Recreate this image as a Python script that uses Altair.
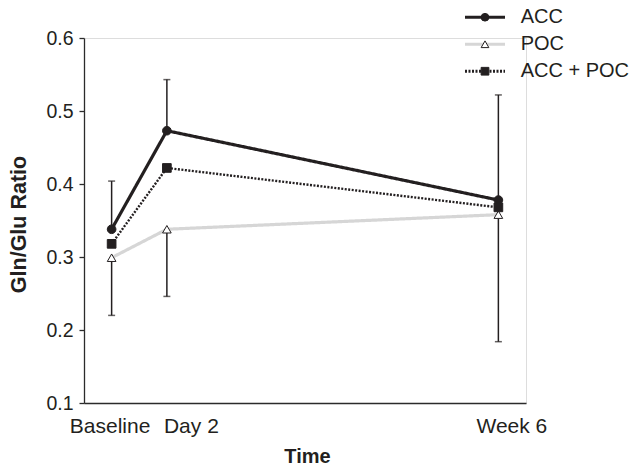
import altair as alt
import pandas as pd

# ---- data ----
time_labels = ["Baseline", "Day 2", "Week 6"]
time_pos = [0, 1, 7]
series_names = ["ACC", "POC", "ACC + POC"]
acc = [0.338, 0.473, 0.378]
poc = [0.299, 0.338, 0.358]
acc_poc = [0.318, 0.422, 0.368]
acc_upper = [0.404, 0.543, 0.522]
poc_lower = [0.220, 0.246, 0.184]
y_ticks = [0.1, 0.2, 0.3, 0.4, 0.5, 0.6]

values = {"ACC": acc, "POC": poc, "ACC + POC": acc_poc}
line_keys = [n + " line" for n in series_names]
rows = []
for s in ["POC", "ACC", "ACC + POC"]:
    for t, x, v in zip(time_labels, time_pos, values[s]):
        rows.append({"series": s + " line", "grp": s, "time": t, "x": x, "value": v})
df = pd.DataFrame(rows)

err_rows = []
for x, m, u in zip(time_pos, acc, acc_upper):
    err_rows.append({"x": x, "start": m, "end": u})
for x, m, l in zip(time_pos, poc, poc_lower):
    err_rows.append({"x": x, "start": m, "end": l})
err = pd.DataFrame(err_rows)

FONT = "Liberation Sans"
INK = "#231f20"
GRAY = "#d6d6d6"

label_expr = "datum.value == 0 ? 'Baseline' : datum.value == 1 ? 'Day 2' : datum.value == 7 ? 'Week 6' : ''"

x_enc = alt.X(
    "x:Q",
    scale=alt.Scale(domain=[-0.5, 7.5], nice=False, zero=False),
    axis=alt.Axis(
        values=time_pos, labelExpr=label_expr, ticks=False, tickSize=0, grid=False,
        labelFontSize=21, labelFont=FONT, labelColor=INK, labelBaseline="alphabetic",
        labelPadding=29, labelFlush=False, labelOverlap=False,
        labelOffset={"condition": [{"test": "datum.value == 1", "value": 24},
                                   {"test": "datum.value == 7", "value": 13}],
                     "value": -2},
        domainColor="#2b2b2b", domainWidth=1.3,
        title="Time", titleFont=FONT, titleFontSize=20, titleFontWeight="bold",
        titleColor=INK, titleX=223, titleY=59, titleBaseline="alphabetic",
    ),
)

y_axis = alt.Axis(
    values=y_ticks, format=".1f", grid=False, tickSize=5, tickColor="#2b2b2b", tickWidth=1.3,
    labelFontSize=19.5, labelFont=FONT, labelColor=INK, labelPadding=6,
    domainColor="#2b2b2b", domainWidth=1.3,
    title="Gln/Glu Ratio", titleFont=FONT, titleFontSize=21.5, titleFontWeight="bold",
    titleColor=INK, titleX=-59, titleY=186, titleBaseline="alphabetic", titleAngle=270,
)
y_scale = alt.Scale(domain=[0.1, 0.6], nice=False, zero=False)

line_legend = alt.Legend(
    title=None, orient="none", legendX=379.5, legendY=-34, symbolType="stroke",
    symbolSize=1600, symbolStrokeWidth=3, labelExpr="''", clipHeight=26.5,
    rowPadding=0, padding=0, labelFontSize=20, labelFont=FONT,
)
color_enc = alt.Color(
    "series:N", scale=alt.Scale(domain=line_keys, range=[INK, GRAY, INK]), legend=line_legend
)
dash_enc = alt.StrokeDash(
    "series:N", scale=alt.Scale(domain=line_keys, range=[[1, 0], [1, 0], [2, 1.5]]), legend=line_legend
)

base = alt.Chart(df)

def line_layer(name, width):
    return base.transform_filter(alt.datum.grp == name).mark_line(strokeWidth=width).encode(
        x=x_enc, y=alt.Y("value:Q", scale=y_scale, axis=y_axis), color=color_enc, strokeDash=dash_enc
    )

poc_line = line_layer("POC", 3.2)
combo_line = line_layer("ACC + POC", 2.4)
acc_line = line_layer("ACC", 3.2)

err_base = alt.Chart(err)
err_rule = err_base.mark_rule(color=INK, strokeWidth=1.5).encode(
    x="x:Q", y="start:Q", y2="end:Q"
)
err_cap = err_base.mark_tick(color=INK, orient="horizontal", size=7, thickness=1.5).encode(
    x="x:Q", y="end:Q"
)

point_legend = alt.Legend(
    title=None, orient="none", legendX=391, legendY=-34, symbolSize=60,
    symbolStrokeWidth=1, clipHeight=26.5, rowPadding=0, padding=0,
    labelFontSize=20, labelFont=FONT, labelColor=INK, labelOffset=25.7,
)
points = base.mark_point(filled=True, size=75, strokeWidth=1, opacity=1).encode(
    x="x:Q",
    y="value:Q",
    shape=alt.Shape("grp:N", scale=alt.Scale(domain=series_names,
                    range=["circle", "triangle-up", "square"]), legend=point_legend),
    fill=alt.Fill("grp:N", scale=alt.Scale(domain=series_names,
                  range=[INK, "#ffffff", INK]), legend=point_legend),
    stroke=alt.Stroke("grp:N", scale=alt.Scale(domain=series_names,
                      range=[INK, INK, INK]), legend=point_legend),
)

chart = alt.layer(poc_line, err_rule, err_cap, combo_line, acc_line, points).properties(
    width=442, height=365,
    padding={"left": 84, "top": 38, "right": 109, "bottom": 63},
    autosize=alt.AutoSizeParams(type="none"),
).configure_view(stroke=None).configure(font=FONT)

chart.save("out.html", embed_options={"renderer": "svg", "actions": False})
